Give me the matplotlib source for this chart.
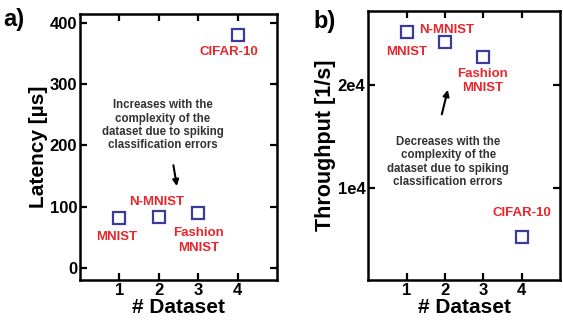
import matplotlib
matplotlib.use("Agg")
import matplotlib.pyplot as plt

plt.rcParams['font.family'] = ['Liberation Sans', 'DejaVu Sans']
plt.rcParams['font.weight'] = 'bold'

# Data
datasets = [1, 2, 3, 4]
names = ['MNIST', 'N-MNIST', 'Fashion\nMNIST', 'CIFAR-10']
latency_us = [81, 83, 90, 380]
throughput = [25150, 24170, 22720, 5240]

# label positions (data coords) for each panel
lat_label_xy = [(0.92, 51), (1.95, 108), (3.0, 44), (3.77, 353)]
thr_label_xy = [(1.0, 23200), (2.03, 25340), (2.97, 20390), (4.0, 7570)]

mark_color = '#3b3b9c'
label_color = '#e8262b'
note_color = '#333333'

fig = plt.figure(figsize=(5.63, 3.24), dpi=100)
ax1 = fig.add_axes([0.142, 0.136, 0.350, 0.821])
ax2 = fig.add_axes([0.654, 0.136, 0.341, 0.830])


def style(ax):
    for s in ax.spines.values():
        s.set_linewidth(1.8)
    ax.tick_params(direction='in', length=5, width=1.6, top=True, right=True,
                   labelsize=12, pad=2)
    for lab in ax.get_xticklabels() + ax.get_yticklabels():
        lab.set_fontweight('bold')
    ax.set_xlim(0, 5)
    ax.set_xticks(datasets)
    ax.set_xlabel('# Dataset', fontsize=15, fontweight='bold', labelpad=0)


# a) latency
ax1.plot(datasets, latency_us, 's', ms=9, mfc='none', mec=mark_color, mew=1.6)
ax1.set_ylim(-20, 415)
ax1.set_yticks([0, 100, 200, 300, 400])
style(ax1)
ax1.set_ylabel('Latency [µs]', fontsize=15, fontweight='bold', labelpad=1)
for name, (x, y) in zip(names, lat_label_xy):
    ax1.text(x, y, name, color=label_color, fontsize=9.5, fontweight='bold',
             ha='center', va='center', linespacing=1.35)
ax1.text(2.1, 233, 'Increases with the\ncomplexity of the\ndataset due to spiking\nclassification errors',
         color=note_color, fontsize=8.3, fontweight='bold', ha='center', va='center',
         linespacing=1.15)
ax1.annotate('', xy=(2.47, 129), xytext=(2.36, 172),
             arrowprops=dict(arrowstyle='-|>', color='black', lw=1.5, mutation_scale=9))
fig.text(0.005, 0.94, 'a)', fontsize=17, fontweight='bold', va='center')

# b) throughput
ax2.plot(datasets, throughput, 's', ms=9, mfc='none', mec=mark_color, mew=1.6)
ax2.set_ylim(1070, 27200)
ax2.set_yticks([10000, 20000])
ax2.set_yticklabels(['1e4', '2e4'])
style(ax2)
ax2.set_ylabel('Throughput [1/s]', fontsize=15.5, fontweight='bold', labelpad=1)
for name, (x, y) in zip(names, thr_label_xy):
    ax2.text(x, y, name, color=label_color, fontsize=9.5, fontweight='bold',
             ha='center', va='center', linespacing=1.25)
ax2.text(2.08, 12520, 'Decreases with the\ncomplexity of the\ndataset due to spiking\nclassification errors',
         color=note_color, fontsize=8.3, fontweight='bold', ha='center', va='center',
         linespacing=1.15)
ax2.annotate('', xy=(2.09, 19800), xytext=(1.9, 16900),
             arrowprops=dict(arrowstyle='-|>', color='black', lw=1.5, mutation_scale=9))
fig.text(0.557, 0.935, 'b)', fontsize=17, fontweight='bold', va='center')

fig.savefig('out.png', dpi=100)
